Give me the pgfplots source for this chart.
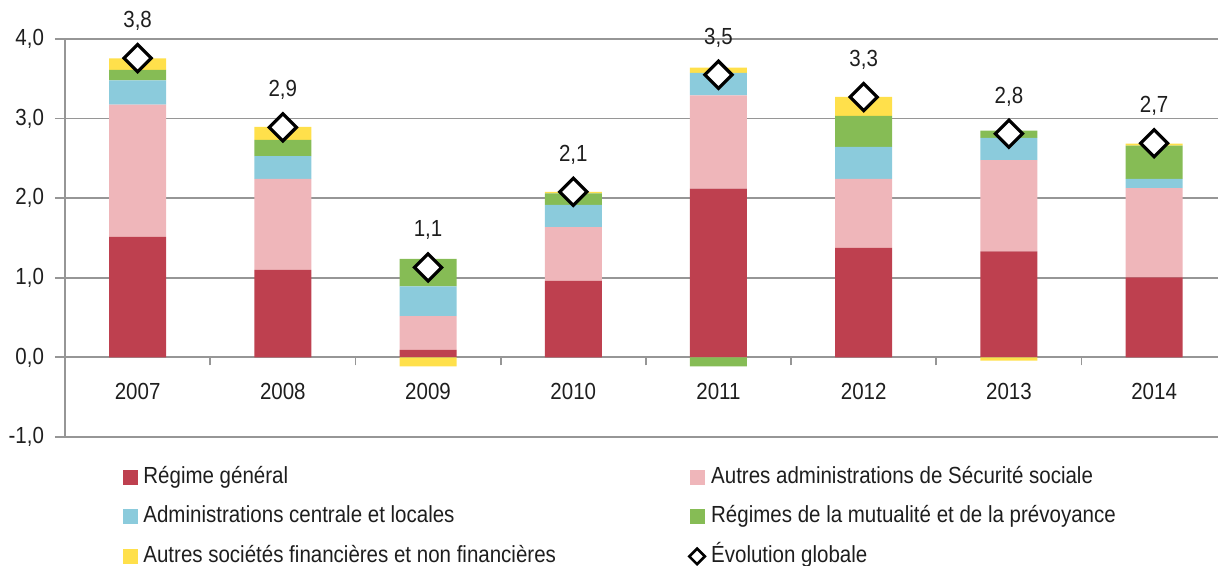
\documentclass[border=0pt]{standalone}
\usepackage{fontspec}
\setmainfont{Liberation Sans}[FakeStretch=0.88]
\usepackage{pgfplots}
\pgfplotsset{compat=1.18}
\usepackage{pgfplotstable}
\definecolor{cRed}{RGB}{190,64,79}
\definecolor{cPink}{RGB}{239,182,186}
\definecolor{cBlue}{RGB}{139,203,220}
\definecolor{cGreen}{RGB}{134,188,85}
\definecolor{cYellow}{RGB}{255,224,75}
\definecolor{gridgray}{RGB}{150,150,150}
\definecolor{textc}{RGB}{30,30,30}
% positive contributions (stacked above zero)
\pgfplotstableread{
x red pink blue green yellow
0 1.515 1.661 0.305 0.130 0.146
1 1.100 1.143 0.284 0.205 0.163
2 0.096 0.423 0.372 0.347 0
3 0.962 0.674 0.280 0.143 0.021
4 2.121 1.172 0.280 0 0.067
5 1.377 0.866 0.401 0.389 0.239
6 1.331 1.146 0.280 0.092 0
7 1.004 1.122 0.117 0.418 0.025
}\posdata
% negative contributions (below zero)
\pgfplotstableread{
x green yellow
2 0 -0.113
4 -0.113 0
6 0 -0.040
}\negdata
\pgfplotstableread{
x total label
0 3.76 3,8
1 2.89 2,9
2 1.13 1,1
3 2.08 2,1
4 3.55 3,5
5 3.27 3,3
6 2.81 2,8
7 2.69 2,7
}\totdata
\begin{document}
\begin{tikzpicture}[font=\fontsize{11.65pt}{14pt}\selectfont, text=textc]
\begin{axis}[
  scale only axis, width=576.5pt, height=199pt,
  xmin=-0.5, xmax=7.44, ymin=-1, ymax=4, enlargelimits=false,
  ybar stacked, bar width=28.5pt,
  axis x line*=middle, axis y line*=left,
  axis line style={draw=gridgray, line width=0.9pt},
  ymajorgrids, grid style={draw=gridgray, line width=0.9pt},
  ytick={-1,0,1,2,3,4},
  xtick={0,1,2,3,4,5,6,7},
  xticklabels={2007,2008,2009,2010,2011,2012,2013,2014},
  minor xtick={0.5,1.5,2.5,3.5,4.5,5.5,6.5},
  major x tick style={draw=none},
  minor x tick style={draw=gridgray, line width=0.9pt},
  ytick style={draw=gridgray, line width=0.9pt},
  minor tick length=4pt, major tick length=5pt,
  tick align=outside,
  xticklabel style={yshift=-4.5pt},
  yticklabel style={xshift=-2pt, /pgf/number format/.cd, fixed, fixed zerofill, precision=1, use comma, assume math mode=true},
  legend columns=2,
  legend cell align=left,
  legend image code/.code={\fill[#1] (0pt,-3.75pt) rectangle (7.5pt,3.75pt);},
  legend style={draw=none, fill=none, at={(0,0)}, anchor=north west,
    xshift=26pt, yshift=-11pt, row sep=5.75pt,
    nodes={inner sep=1pt, text height=9pt, text depth=3pt},
    /tikz/every odd column/.append style={column sep=1.5pt},
    /tikz/every even column/.append style={column sep=65pt}},
]
\addplot[fill=cRed, draw=none] table[x=x, y=red]{\posdata};
\addlegendentry{Régime général}
\addplot[fill=cPink, draw=none] table[x=x, y=pink]{\posdata};
\addlegendentry{Autres administrations de Sécurité sociale}
\addplot[fill=cBlue, draw=none] table[x=x, y=blue]{\posdata};
\addlegendentry{Administrations centrale et locales}
\addplot[fill=cGreen, draw=none] table[x=x, y=green]{\posdata};
\addlegendentry{Régimes de la mutualité et de la prévoyance}
\addplot[fill=cYellow, draw=none] table[x=x, y=yellow]{\posdata};
\addlegendentry{Autres sociétés financières et non financières}
\addlegendimage{legend image code/.code={\draw[black, line width=1.3pt, fill=white] (3.75pt,-3.9pt)--(7.65pt,0pt)--(3.75pt,3.9pt)--(-0.15pt,0pt)--cycle;}}
\addlegendentry{Évolution globale}
\end{axis}
\begin{axis}[
  scale only axis, width=576.5pt, height=199pt,
  xmin=-0.5, xmax=7.44, ymin=-1, ymax=4, enlargelimits=false,
  hide axis, clip=false,
]
\addplot[ybar, bar width=28.5pt, bar shift=0pt, fill=cYellow, draw=none] table[x=x, y=yellow]{\negdata};
\addplot[ybar, bar width=28.5pt, bar shift=0pt, fill=cGreen, draw=none] table[x=x, y=green]{\negdata};
\addplot[only marks, mark=square*, mark size=4.8pt,
  mark options={rotate=45, fill=white, draw=black, line width=1.6pt},
  nodes near coords, point meta=explicit symbolic,
  nodes near coords style={anchor=center, yshift=18.5pt, text=textc}]
  table[x=x, y=total, meta=label]{\totdata};
\end{axis}
\pgfresetboundingbox
\path[use as bounding box] (-32.5pt,-64.5pt) rectangle (576.5pt,218.5pt);
\end{tikzpicture}
\end{document}
